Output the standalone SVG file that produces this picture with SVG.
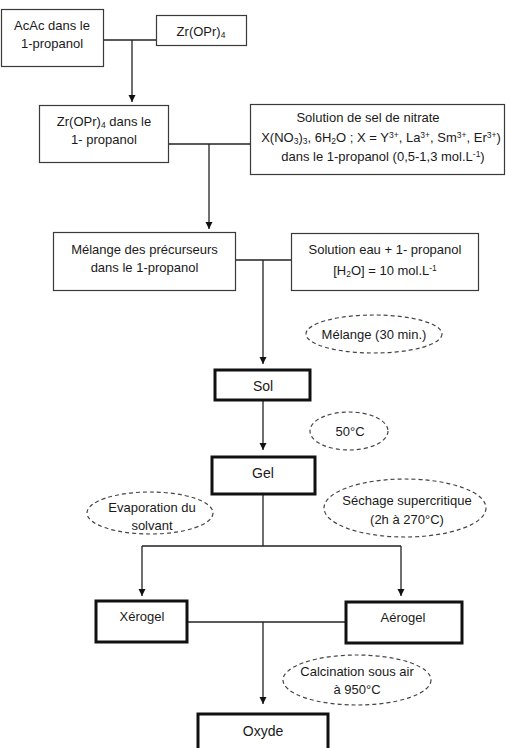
<svg xmlns="http://www.w3.org/2000/svg" width="506" height="748" viewBox="0 0 506 748">
<defs>
<marker id="arr" viewBox="0 0 10 10" refX="10" refY="5" markerWidth="7" markerHeight="8" markerUnits="userSpaceOnUse" orient="auto">
<path d="M0,0 L10,5 L0,10 z" fill="#111"/>
</marker>
<style>
text{font-family:"Liberation Sans",Arial,sans-serif;font-size:13px;fill:#1a1a1a;text-anchor:middle}
.thin{fill:#fff;stroke:#3a3a3a;stroke-width:1.2}
.thick{fill:#fff;stroke:#111;stroke-width:3}
.ell{fill:none;stroke:#444;stroke-width:1.2;stroke-dasharray:4 3}
.con{fill:none;stroke:#222;stroke-width:1.3}
.big{font-size:14px}
</style>
</defs>
<rect width="506" height="748" fill="#fff"/>
<g id="connectors">
<path class="con" d="M104,40 H156"/>
<path class="con" d="M132,40 V102" marker-end="url(#arr)"/>
<path class="con" d="M169,144 H250"/>
<path class="con" d="M209,144 V229" marker-end="url(#arr)"/>
<path class="con" d="M236,260 H291"/>
<path class="con" d="M263,260 V364" marker-end="url(#arr)"/>
<path class="con" d="M263,401 V450" marker-end="url(#arr)"/>
<path class="con" d="M263,495 V546 M142,546 H401"/>
<path class="con" d="M142,546 V596" marker-end="url(#arr)"/>
<path class="con" d="M401,546 V596" marker-end="url(#arr)"/>
<path class="con" d="M188,622 H345"/>
<path class="con" d="M263,622 V704" marker-end="url(#arr)"/>
</g>
<g id="acac">
<rect class="thin" x="1.5" y="9.5" width="102" height="57"/>
<text x="52" y="30">AcAc dans le</text>
<text x="52" y="48">1-propanol</text>
</g>
<g id="zropr">
<rect class="thin" x="156.5" y="15.5" width="90" height="30"/>
<text x="201" y="36">Zr(OPr)<tspan font-size="8.5" dy="2">4</tspan></text>
</g>
<g id="zropr-propanol">
<rect class="thin" x="39.5" y="105.5" width="129" height="57"/>
<text x="104" y="126">Zr(OPr)<tspan font-size="8.5" dy="2">4</tspan><tspan dy="-2"> dans le</tspan></text>
<text x="104" y="144">1- propanol</text>
</g>
<g id="nitrate">
<rect class="thin" x="250.5" y="104.5" width="254" height="70"/>
<text x="368" y="122">Solution de sel de nitrate</text>
<text x="381" y="142" font-size="12.5">X(NO<tspan font-size="8.5" dy="2">3</tspan><tspan dy="-2">)</tspan><tspan font-size="8.5" dy="2">3</tspan><tspan dy="-2">, 6H</tspan><tspan font-size="8.5" dy="2">2</tspan><tspan dy="-2">O ; X = Y</tspan><tspan font-size="8.5" dy="-4">3+</tspan><tspan dy="4">, La</tspan><tspan font-size="8.5" dy="-4">3+</tspan><tspan dy="4">, Sm</tspan><tspan font-size="8.5" dy="-4">3+</tspan><tspan dy="4">, Er</tspan><tspan font-size="8.5" dy="-4">3+</tspan><tspan dy="4">)</tspan></text>
<text x="383" y="161">dans le 1-propanol (0,5-1,3 mol.L<tspan font-size="8.5" dy="-4">-1</tspan><tspan dy="4">)</tspan></text>
</g>
<g id="melange">
<rect class="thin" x="53.5" y="232.5" width="182" height="58"/>
<text x="144.5" y="254">Mélange des précurseurs</text>
<text x="144.5" y="272">dans le 1-propanol</text>
</g>
<g id="eau">
<rect class="thin" x="291.5" y="233.5" width="187" height="57"/>
<text x="385" y="254">Solution eau + 1- propanol</text>
<text x="385" y="275">[H<tspan font-size="8.5" dy="2">2</tspan><tspan dy="-2">O] = 10 mol.L</tspan><tspan font-size="8.5" dy="-4">-1</tspan></text>
</g>
<g id="e-melange">
<ellipse class="ell" cx="374" cy="334" rx="68" ry="19"/>
<text x="374" y="339">Mélange (30 min.)</text>
</g>
<g id="sol">
<rect class="thick" x="215" y="370" width="95" height="30"/>
<text class="big" x="263" y="391">Sol</text>
</g>
<g id="e-50">
<ellipse class="ell" cx="349" cy="431" rx="39" ry="19"/>
<text x="350" y="436">50°C</text>
</g>
<g id="gel">
<rect class="thick" x="212" y="457" width="103" height="37"/>
<text class="big" x="263" y="478">Gel</text>
</g>
<g id="e-evap">
<ellipse class="ell" cx="150" cy="513" rx="63" ry="21"/>
<text x="152" y="512">Evaporation du</text>
<text x="152" y="530">solvant</text>
</g>
<g id="e-sechage">
<ellipse class="ell" cx="405" cy="508" rx="81" ry="29"/>
<text x="407" y="505">Séchage supercritique</text>
<text x="407" y="524">(2h à 270°C)</text>
</g>
<g id="xerogel">
<rect class="thick" x="96" y="601" width="91" height="41"/>
<text x="142" y="621">Xérogel</text>
</g>
<g id="aerogel">
<rect class="thick" x="346" y="602" width="116" height="41"/>
<text x="403" y="622">Aérogel</text>
</g>
<g id="e-calcination">
<ellipse class="ell" cx="357" cy="680" rx="74" ry="25"/>
<text x="357" y="676">Calcination sous air</text>
<text x="357" y="694">à 950°C</text>
</g>
<g id="oxyde">
<rect class="thick" x="198" y="714" width="130" height="40"/>
<text class="big" x="263" y="736">Oxyde</text>
</g>
</svg>
